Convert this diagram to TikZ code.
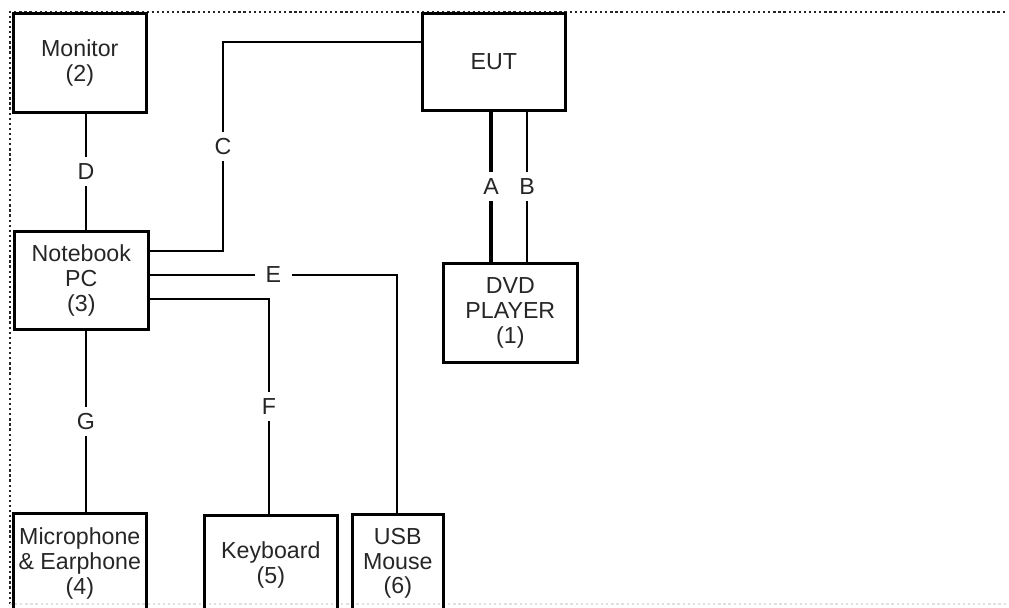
\documentclass[tikz,border=0pt]{standalone}
\usepackage{fontspec}
\setmainfont{Liberation Sans}
\usetikzlibrary{positioning,calc}
\tikzset{
  unitbox/.style={draw=black,line width=1.5pt,anchor=north west,inner sep=0pt,
    align=center,text=black!85,font=\fontsize{13.2}{14.2}\selectfont},
  wire/.style={draw=black,line width=1.4pt},
  lbl/.style={fill=white,text=black!85,inner xsep=0.22cm,inner ysep=0.13cm,
    font=\fontsize{13.2}{14.2}\selectfont},
  frame/.style={draw=black!85,line width=1.3pt,dash pattern=on 1.3pt off 1.6pt}
}
% name, x, y, width, height (in px), text
\newcommand{\eqbox}[6]{%
  \node[unitbox,minimum width=#4*0.02cm,minimum height=#5*0.02cm] (#1) at (#2,#3) {#6};
}

\begin{document}
\begin{tikzpicture}[x=0.02cm,y=-0.02cm]
  \useasboundingbox (0,0) rectangle (1009,608);
  % dotted border
  \draw[frame] (10,604) -- (10,12) -- (1006,12);
  \draw[frame,draw=black!12] (10,604) -- (1006,604);

  \eqbox{eut}{421}{12}{143}{97}{EUT}
  \eqbox{dvd}{442}{262}{134}{99}{DVD\\PLAYER\\(1)}
  \eqbox{monitor}{12}{12}{133}{99}{Monitor\\(2)}
  \eqbox{pc}{13}{230}{134}{98}{Notebook\\PC\\(3)}
  \eqbox{mic}{12}{512}{133}{100}{Microphone\\\& Earphone\\(4)}
  \eqbox{kbd}{203}{514}{133}{100}{Keyboard\\(5)}
  \eqbox{mouse}{351}{513}{91}{98}{USB\\Mouse\\(6)}

  \draw[wire,line width=2pt] (eut.south -| 491,0) -- node[lbl]{A} (dvd.north -| 491,0);
  \draw[wire] (eut.south -| 527,0) -- node[lbl]{B} (dvd.north -| 527,0);
  \draw[wire] (pc.east |- 0,251) -| node[lbl,pos=0.75]{C} (223,42) -- (eut.west |- 0,42);
  \draw[wire] (monitor.south -| 86,0) -- node[lbl]{D} (pc.north -| 86,0);
  \draw[wire] (pc.east |- 0,275) -| node[lbl,pos=0.25]{E} (mouse.north -| 397,0);
  \draw[wire] (pc.east |- 0,299) -| node[lbl,pos=0.75]{F} (kbd.north -| 269,0);
  \draw[wire] (pc.south -| 86,0) -- node[lbl]{G} (mic.north -| 86,0);
\end{tikzpicture}
\end{document}
